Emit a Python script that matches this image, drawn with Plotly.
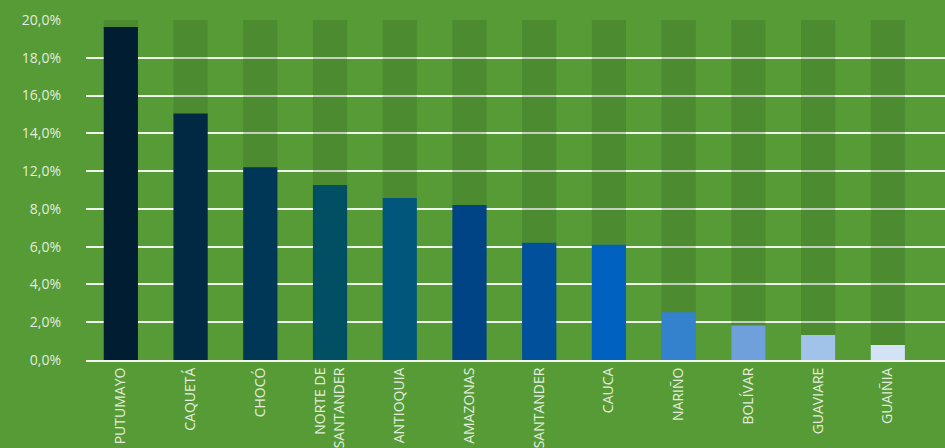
import plotly.graph_objects as go

categories = ["PUTUMAYO", "CAQUETÁ", "CHOCÓ", "NORTE DE<br>SANTANDER", "ANTIOQUIA",
              "AMAZONAS", "SANTANDER", "CAUCA", "NARIÑO", "BOLÍVAR", "GUAVIARE", "GUAIÑIA"]
# values in axis units (evenly spaced ticks, as drawn in the reference)
values = [17.63, 13.05, 10.21, 9.26, 8.58, 8.21, 6.21, 6.10, 2.53, 1.83, 1.32, 0.79]
background = [18] * 12
bar_colors = ["#001d32", "#002a44", "#003756", "#004f63", "#00567b", "#004485",
              "#00509b", "#0061c1", "#3481cd", "#6fa0dc", "#a1c2e9", "#d4e2f5"]
tick_vals = [0, 2, 4, 6, 8, 10, 12, 14, 16, 18]
tick_text = ["0,0%", "2,0%", "4,0%", "6,0%", "8,0%", "12,0%", "14,0%", "16,0%", "18,0%", "20,0%"]

BG = "#569b35"
TXT = "#e3ecdf"

fig = go.Figure()
fig.add_trace(go.Bar(x=categories, y=background, width=0.49,
                     marker=dict(color="rgba(40,80,30,0.22)", line=dict(width=0)),
                     hoverinfo="skip", showlegend=False))
fig.add_trace(go.Bar(x=categories, y=values, width=0.49,
                     marker=dict(color=bar_colors, line=dict(width=0)),
                     showlegend=False))

fig.update_layout(
    width=945, height=448,
    barmode="overlay",
    paper_bgcolor=BG, plot_bgcolor=BG,
    margin=dict(l=86, r=0, t=20, b=86),
    font=dict(family="Open Sans", color=TXT, size=12),
    xaxis=dict(range=[-0.5, 11.82], tickangle=-90, showgrid=False,
               showline=True, linecolor="#f2f5f0", linewidth=2,
               tickfont=dict(size=14, color=TXT), ticks=""),
    yaxis=dict(range=[0, 18], tickvals=tick_vals, ticktext=tick_text,
               showgrid=True, gridcolor="rgba(255,255,255,0.9)", gridwidth=1.7,
               zeroline=False, showline=False, ticks="",
               ticklabelstandoff=24,
               tickfont=dict(size=14, color=TXT)),
)

fig.write_html("out.html", config={"displayModeBar": False},
               post_script="document.body.style.margin='0';document.body.style.background='" + BG + "';")
